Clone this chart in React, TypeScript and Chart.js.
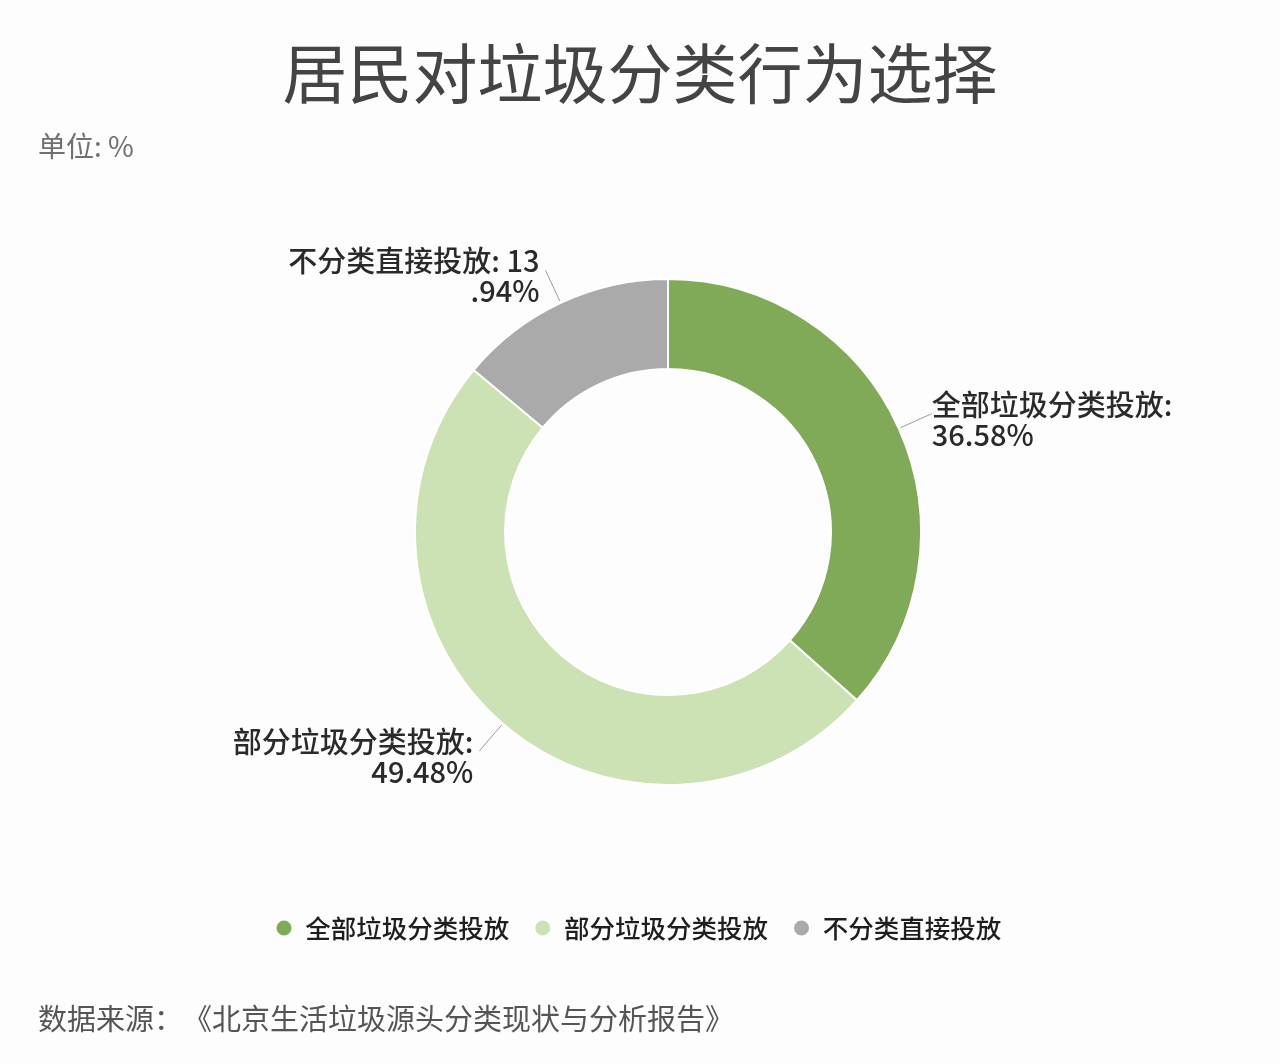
import React, { useEffect, useRef } from 'react';
import Chart from 'chart.js/auto';

const categories = ['全部垃圾分类投放', '部分垃圾分类投放', '不分类直接投放'];
const shares = [36.58, 49.48, 13.94];
const colors = ['#80aa57', '#cde2b4', '#aaaaab'];
// slice labels, wrapped the way the source picture wraps them
const sliceLabels = [
  ['全部垃圾分类投放:', '36.58%'],
  ['部分垃圾分类投放:', '49.48%'],
  ['不分类直接投放: 13', '.94%'],
];

const FONT = '"Noto Sans CJK SC", "Noto Sans", sans-serif';

const leaderLabels = {
  id: 'leaderLabels',
  afterDatasetsDraw(chart: any) {
    const { ctx } = chart;
    const arcs = chart.getDatasetMeta(0).data;
    ctx.save();
    arcs.forEach((arc: any, i: number) => {
      const { x, y, startAngle, endAngle, outerRadius } = arc.getProps(
        ['x', 'y', 'startAngle', 'endAngle', 'outerRadius'],
        true
      );
      const mid = (startAngle + endAngle) / 2;
      const cos = Math.cos(mid);
      const sin = Math.sin(mid);
      const x1 = x + cos * (outerRadius + 2);
      const y1 = y + sin * (outerRadius + 2);
      const x2 = x + cos * (outerRadius + 36);
      const y2 = y + sin * (outerRadius + 36);
      ctx.strokeStyle = '#9a9a9a';
      ctx.lineWidth = 1;
      ctx.beginPath();
      ctx.moveTo(x1, y1);
      ctx.lineTo(x2, y2);
      ctx.stroke();

      const right = cos >= 0;
      ctx.font = `500 29px ${FONT}`;
      ctx.fillStyle = '#2a2a2a';
      ctx.textBaseline = 'middle';
      ctx.textAlign = right ? 'left' : 'right';
      const tx = right ? x2 : x2 - 6;
      sliceLabels[i].forEach((line, k) => {
        ctx.fillText(line, tx, y2 - 9 + k * 30);
      });
    });
    ctx.restore();
  },
};

const App: React.FC = () => {
  const canvasRef = useRef<HTMLCanvasElement>(null);
  const chartRef = useRef<Chart | null>(null);

  useEffect(() => {
    if (!canvasRef.current) return;
    if (chartRef.current) chartRef.current.destroy();

    chartRef.current = new Chart(canvasRef.current, {
      type: 'doughnut',
      data: {
        labels: categories,
        datasets: [
          {
            data: shares,
            backgroundColor: colors,
            borderColor: '#ffffff',
            borderWidth: 2,
          },
        ],
      },
      options: {
        animation: false,
        responsive: true,
        maintainAspectRatio: false,
        radius: 253,
        cutout: '64.4%',
        layout: {
          padding: { left: 250.5, right: 194.5, top: 173.75, bottom: 113.25 },
        },
        plugins: {
          tooltip: { enabled: false },
          legend: {
            position: 'bottom',
            align: 'start',
            labels: {
              usePointStyle: true,
              pointStyle: 'circle',
              pointStyleWidth: 17,
              boxWidth: 17,
              boxHeight: 12,
              padding: 25,
              color: '#1e1e1e',
              font: { size: 25.5, family: FONT, weight: 500 },
            },
          },
        },
      },
      plugins: [leaderLabels],
    });

    return () => {
      if (chartRef.current) {
        chartRef.current.destroy();
        chartRef.current = null;
      }
    };
  }, []);

  return (
    <div
      style={{
        position: 'absolute',
        left: 0,
        top: 0,
        width: 1280,
        height: 1064,
        background: '#fdfdfd',
        fontFamily: FONT,
        overflow: 'hidden',
      }}
    >
      <div style={{ position: 'absolute', inset: 0 }}>
        <canvas ref={canvasRef}></canvas>
      </div>
      <div
        style={{
          position: 'absolute',
          top: 37,
          left: 0,
          width: 1280,
          textAlign: 'center',
          fontSize: 65,
          lineHeight: '66px',
          fontWeight: 400,
          color: '#444444',
        }}
      >
        居民对垃圾分类行为选择
      </div>
      <div
        style={{
          position: 'absolute',
          top: 129,
          left: 38,
          fontSize: 28,
          lineHeight: '32px',
          color: '#707070',
        }}
      >
        单位: %
      </div>
      <div
        style={{
          position: 'absolute',
          top: 1000,
          left: 38,
          fontSize: 29,
          lineHeight: '34px',
          color: '#555555',
          whiteSpace: 'nowrap',
          textSpacingTrim: 'space-all',
        } as React.CSSProperties}
      >
        数据来源：《北京生活垃圾源头分类现状与分析报告》
      </div>
    </div>
  );
};

export default App;
